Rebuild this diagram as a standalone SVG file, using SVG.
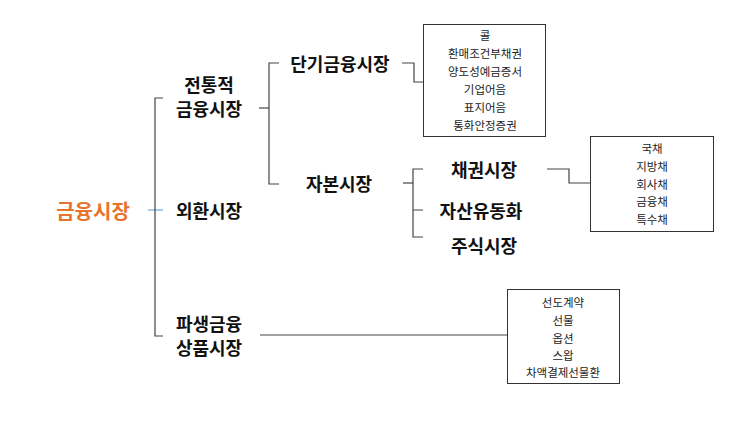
<svg xmlns="http://www.w3.org/2000/svg" width="750" height="421" viewBox="0 0 750 421">
<style>
.t{font-family:"Noto Sans CJK KR","Noto Sans",sans-serif;font-weight:bold;font-size:18px;fill:#111;text-anchor:middle;dominant-baseline:central}
.r{fill:#e8732c;font-size:20px}
.s{font-family:"Noto Sans CJK KR","Noto Sans",sans-serif;font-size:11.5px;fill:#222;text-anchor:middle;dominant-baseline:central}
.box{fill:#fff;stroke:#333;stroke-width:1}
.ln{fill:none;stroke:#444;stroke-width:1.2}
</style>
<rect width="750" height="421" fill="#fff"/>
<g id="connectors">
<line x1="148" y1="210" x2="163" y2="210" stroke="#6fa8dc" stroke-width="1.2"/>
<path class="ln" d="M163 98H155V336H163"/>
<path class="ln" d="M259 108H269"/>
<path class="ln" d="M279 63H269V184H279"/>
<path class="ln" d="M402 63H414V82H424"/>
<path class="ln" d="M403 183H413"/>
<path class="ln" d="M423 169H413V237H423M413 210H423"/>
<path class="ln" d="M547 169H569V183H590"/>
<path class="ln" d="M260 335H507"/>
</g>
<g id="root"><text class="t r" x="93" y="210">금융시장</text></g>
<g id="traditional"><text class="t" x="209" y="84">전통적</text><text class="t" x="209" y="108">금융시장</text></g>
<g id="fx"><text class="t" x="209" y="210">외환시장</text></g>
<g id="derivative"><text class="t" x="209" y="323">파생금융</text><text class="t" x="209" y="347">상품시장</text></g>
<g id="short"><text class="t" x="340" y="63">단기금융시장</text></g>
<g id="capital"><text class="t" x="339" y="183">자본시장</text></g>
<g id="bond"><text class="t" x="484" y="169">채권시장</text></g>
<g id="abs"><text class="t" x="481" y="210">자산유동화</text></g>
<g id="stock"><text class="t" x="484" y="245">주식시장</text></g>
<g id="box-short">
<rect class="box" x="423.5" y="24.5" width="122" height="112"/>
<text class="s" x="485" y="35">콜</text>
<text class="s" x="485" y="53">환매조건부채권</text>
<text class="s" x="485" y="71">양도성예금증서</text>
<text class="s" x="485" y="89">기업어음</text>
<text class="s" x="485" y="107">표지어음</text>
<text class="s" x="485" y="125">통화안정증권</text>
</g>
<g id="box-bond">
<rect class="box" x="590.5" y="136.5" width="123" height="95"/>
<text class="s" x="652" y="148">국채</text>
<text class="s" x="652" y="166">지방채</text>
<text class="s" x="652" y="184">회사채</text>
<text class="s" x="652" y="201">금융채</text>
<text class="s" x="652" y="219">특수채</text>
</g>
<g id="box-deriv">
<rect class="box" x="507.5" y="289.5" width="112" height="94"/>
<text class="s" x="563" y="302">선도계약</text>
<text class="s" x="563" y="320">선물</text>
<text class="s" x="563" y="338">옵션</text>
<text class="s" x="563" y="355">스왑</text>
<text class="s" x="563" y="372">차액결제선물환</text>
</g>
</svg>
